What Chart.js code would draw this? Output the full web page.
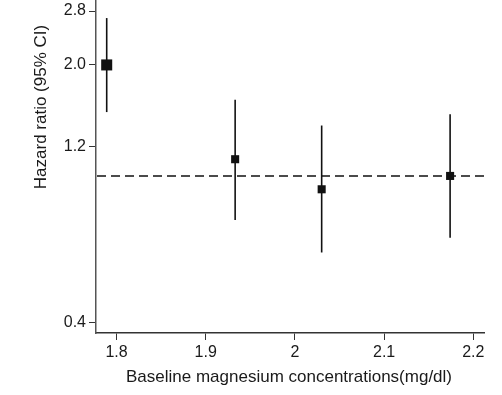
<!DOCTYPE html>
<html><head><meta charset="utf-8">
<script src="https://cdn.jsdelivr.net/npm/chart.js@4/dist/chart.umd.min.js"></script>
<style>html,body{margin:0;padding:0;background:#fff}#wrap{width:502px;height:395px}</style>
</head><body><div id="wrap"><canvas id="c" width="502" height="395"></canvas></div>
<script>
const magnesium = [1.789, 1.933, 2.030, 2.174];
const hazardRatio = [2.00, 1.11, 0.92, 1.00];
const ciLower = [1.49, 0.76, 0.62, 0.68];
const ciUpper = [2.68, 1.61, 1.37, 1.47];
const markerSizes = [7.8, 5.7, 5.7, 5.7];
const yTickValues = [0.4, 1.2, 2.0, 2.8];
const xTickValues = [1.8, 1.9, 2.0, 2.1, 2.2];
const referenceHR = 1.0;
const xRange = [1.777, 2.212];
const yRange = [0.375, 3.0];
const xTitle = 'Baseline magnesium concentrations(mg/dl)';
const yTitle = 'Hazard ratio (95% CI)';

const FONT = 'Arial, "Liberation Sans", sans-serif';
const TXT = '#1a1a1a';

const datasets = [];
magnesium.forEach((m, i) => {
  datasets.push({
    type: 'scatter', showLine: true,
    data: [{x: m, y: ciLower[i]}, {x: m, y: ciUpper[i]}],
    borderColor: '#111', borderWidth: 1.6, pointRadius: 0, order: 2
  });
});
datasets.push({
  type: 'scatter', showLine: true,
  data: [{x: xRange[0], y: referenceHR}, {x: xRange[1], y: referenceHR}],
  borderColor: '#111', borderWidth: 1.5, borderDash: [9, 5], borderDashOffset: -1, pointRadius: 0, order: 3
});
datasets.push({
  type: 'scatter',
  data: magnesium.map((m, i) => ({x: m, y: hazardRatio[i]})),
  backgroundColor: '#111', borderColor: '#111', borderWidth: 0,
  pointStyle: 'rect', pointRadius: markerSizes, order: 0
});

const titlePlugin = {
  id: 'titles',
  afterDraw(chart) {
    const ctx = chart.ctx;
    ctx.save();
    ctx.fillStyle = TXT;
    ctx.font = '17px ' + FONT;
    ctx.textAlign = 'center';
    ctx.textBaseline = 'middle';
    ctx.fillText(xTitle, 289, 377);
    ctx.translate(41, 107);
    ctx.rotate(-Math.PI / 2);
    ctx.fillText(yTitle, 0, 0);
    ctx.restore();
  }
};

new Chart(document.getElementById('c'), {
  type: 'scatter',
  data: { datasets },
  plugins: [titlePlugin],
  options: {
    responsive: false, animation: false,
    layout: { autoPadding: false, padding: { left: 0, right: 18, top: 0, bottom: 0 } },
    plugins: { legend: { display: false }, tooltip: { enabled: false } },
    scales: {
      x: {
        type: 'linear', min: xRange[0], max: xRange[1],
        afterBuildTicks: s => { s.ticks = xTickValues.map(v => ({value: v})); },
        afterFit: s => { s.height = 62; s.paddingLeft = 0; s.paddingRight = 0; },
        ticks: { color: TXT, font: { family: FONT, size: 16 }, padding: 3,
                 callback: v => String(v) },
        grid: { drawOnChartArea: false, drawTicks: true, tickLength: 7, tickColor: '#333', tickWidth: 1 },
        border: { display: true, color: '#333', width: 1.5 }
      },
      y: {
        type: 'logarithmic', min: yRange[0], max: yRange[1],
        afterBuildTicks: s => { s.ticks = yTickValues.map(v => ({value: v})); },
        afterFit: s => { s.width = 96; s.paddingTop = 0; s.paddingBottom = 0; },
        ticks: { color: TXT, font: { family: FONT, size: 16 }, padding: 3,
                 callback: v => Number(v).toFixed(1) },
        grid: { drawOnChartArea: false, drawTicks: true, tickLength: 7, tickColor: '#333', tickWidth: 1 },
        border: { display: true, color: '#555', width: 1.5 }
      }
    }
  }
});
</script></body></html>
